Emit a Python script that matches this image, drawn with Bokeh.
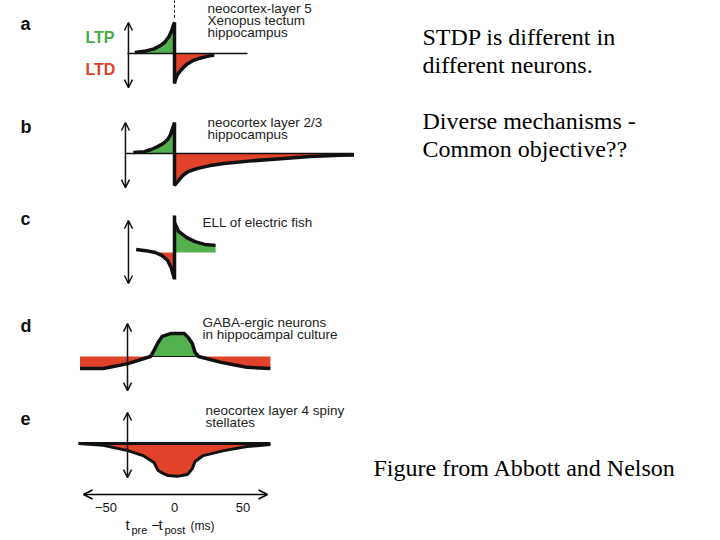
import numpy as np
from bokeh.plotting import figure
from bokeh.models import Range1d, Label, Arrow, OpenHead
from bokeh.embed import file_html
from bokeh.resources import INLINE
from bokeh.core.properties import value

# ---------------- data: t in ms (t_pre - t_post), w = weight change (normalised) ----------------
a_ltp_t = [-29, -22, -15, -10, -7, -4, -2, -1, 0]
a_ltp_w = [0.03, 0.07, 0.15, 0.26, 0.37, 0.55, 0.74, 0.90, 1.00]
a_ltd_t = [0, 0.7, 2.2, 5, 9, 13, 18, 23, 29]
a_ltd_w = [-0.97, -0.84, -0.68, -0.52, -0.35, -0.24, -0.16, -0.10, -0.05]

b_ltp_t = [-30, -22, -17, -12, -8, -5, -3, -1.5, 0]
b_ltp_w = [0.03, 0.06, 0.13, 0.23, 0.33, 0.45, 0.60, 0.80, 1.00]
b_ltd_t = [0, 3, 6, 10, 17, 26, 36, 58, 80, 99, 121, 131]
b_ltd_w = [-1.03, -0.87, -0.71, -0.58, -0.48, -0.39, -0.32, -0.23, -0.16, -0.10, -0.06, -0.05]

c_pre_t = [-28, -21, -14, -9, -5, -2.5, -1, 0]
c_pre_w = [0.10, 0.06, 0.0, -0.10, -0.26, -0.48, -0.71, -0.84]
c_post_t = [0, 3, 9, 15, 22, 30]
c_post_w = [0.97, 0.68, 0.48, 0.35, 0.26, 0.23]
c_jump_w = [-0.87, 1.19]

d_t = [-69, -52, -34, -17.5, -15, -12, -9, -3, 7, 10, 13, 15, 17.5, 34, 46, 53, 70]
d_w = [-0.39, -0.39, -0.23, 0.0, 0.19, 0.45, 0.65, 0.74, 0.74, 0.61, 0.42, 0.13, 0.0, -0.19, -0.29, -0.35, -0.39]

e_t = [-70, -52, -34, -23, -15, -12, -8, -5, 2, 9.5, 13, 15, 21, 36, 53, 70]
e_w = [0.0, -0.06, -0.23, -0.39, -0.61, -0.87, -0.97, -1.03, -1.06, -1.0, -0.81, -0.58, -0.39, -0.23, -0.10, -0.03]

tick_vals = [-50, 0, 50]
tick_labels = ["\u221250", "0", "50"]

panel_letters = ["a", "b", "c", "d", "e"]
panel_notes = [
    ["neocortex-layer 5", "Xenopus tectum", "hippocampus"],
    ["neocortex layer 2/3", "hippocampus"],
    ["ELL of electric fish"],
    ["GABA-ergic  neurons", "in hippocampal culture"],
    ["neocortex layer 4 spiny", "stellates"],
]
side_text = ["STDP is different in", "different neurons.", "",
             "Diverse mechanisms -", "Common objective??"]
credit = "Figure from Abbott and Nelson"

# ---------------- layout / style ----------------
W, H = 720, 540
T0, S = 174.0, 1.37          # page x of t=0, pixels per ms
K = 31.0                      # pixels per weight unit
BASE_FIX = 0.37               # svg alphabetic-baseline correction (em)
baselines = [53, 153, 252, 356, 443]
arrow_t = [-33.6, -35.8, -33.6, -34.3, -34.3]
arrow_w = [(1.0, -1.1), (1.0, -1.1), (1.03, -1.0), (1.06, -1.1), (1.0, -1.1)]
GREEN = "#52b04f"
RED = "#e0432a"
BLACK = "#111111"
SANS = "Liberation Sans"
SERIF = "Liberation Serif"

p = figure(width=W, height=H, output_backend="svg", toolbar_location=None,
           x_range=Range1d(0, W), y_range=Range1d(H, 0),
           min_border=0, outline_line_color=None)
p.axis.visible = False
p.grid.visible = False
p.extra_x_ranges = {"ms": Range1d((0 - T0) / S, (W - T0) / S)}
names = []
for i, B in enumerate(baselines):
    nm = "w%d" % i
    p.extra_y_ranges[nm] = Range1d(-(H - B) / K, B / K)
    names.append(nm)

def fill(t, lo, hi, color, yr):
    p.varea(x=t, y1=lo, y2=hi, fill_color=color, x_range_name="ms", y_range_name=yr)

def line(t, w, yr, width=3.5, color=BLACK, dash="solid"):
    p.line(t, w, line_width=width, line_color=color, line_dash=dash,
           x_range_name="ms", y_range_name=yr)

# panel a
fill(a_ltp_t, [0] * len(a_ltp_t), a_ltp_w, GREEN, names[0])
fill(a_ltd_t, [0] * len(a_ltd_t), a_ltd_w, RED, names[0])
line([-34.3, 53.3], [0, 0], names[0], width=1.5)
line(a_ltp_t + a_ltd_t, a_ltp_w + a_ltd_w, names[0])
line([0, 0], [1.15, 1.75], names[0], width=1, dash="3 2")

# panel b
fill(b_ltp_t, [0] * len(b_ltp_t), b_ltp_w, GREEN, names[1])
fill(b_ltd_t, [0] * len(b_ltd_t), b_ltd_w, RED, names[1])
line([-35.8, 130.7], [0, 0], names[1], width=1.5)
line(b_ltp_t + b_ltd_t, b_ltp_w + b_ltd_w, names[1])

# panel c
cw = np.array(c_pre_w)
fill(c_pre_t, [0] * len(c_pre_t), np.minimum(cw, 0), RED, names[2])
fill(c_post_t, [0] * len(c_post_t), c_post_w, GREEN, names[2])
line(c_pre_t, c_pre_w, names[2])
line(c_post_t, c_post_w, names[2])
line([0, 0], c_jump_w, names[2])

# panel d
dw = np.array(d_w)
fill(d_t, [0] * len(d_t), np.minimum(dw, 0), RED, names[3])
fill(d_t, [0] * len(d_t), np.maximum(dw, 0), GREEN, names[3])
line([-17.5, 17.5], [0, 0], names[3], width=1)
line(d_t, d_w, names[3])

# panel e
fill(e_t, [0] * len(e_t), e_w, RED, names[4])
line(e_t, e_w, names[4], width=3)
line([-70, 70], [0, 0], names[4], width=3)

# vertical double arrows
for i in range(5):
    p.add_layout(Arrow(start=OpenHead(size=8, line_width=1.5, line_color=BLACK),
                       end=OpenHead(size=8, line_width=1.5, line_color=BLACK),
                       x_start=arrow_t[i], x_end=arrow_t[i],
                       y_start=arrow_w[i][1], y_end=arrow_w[i][0],
                       line_width=1.5, line_color=BLACK,
                       x_range_name="ms", y_range_name=names[i]))

# time axis
p.add_layout(Arrow(start=OpenHead(size=9, line_width=1.5), end=OpenHead(size=9, line_width=1.5),
                   x_start=-66.4, x_end=67.9, y_start=494, y_end=494,
                   line_width=1.5, x_range_name="ms"))
p.text(x=tick_vals, y=[512 - BASE_FIX * 13] * 3, text=tick_labels, x_range_name="ms",
       text_font=value(SANS), text_font_size="13px", text_align="center",
       text_baseline="alphabetic", text_color="#111111")

def lab(x, y, txt, size=13, color="#222222", font=SANS, style="normal", align="left"):
    p.add_layout(Label(x=x, y=y - BASE_FIX * size, text=txt, text_font=font,
                       text_font_size="%gpx" % size,
                       text_color=color, text_font_style=style, text_align=align,
                       text_baseline="alphabetic"))

lab(125, 530, "t", size=15, color="#111111")
lab(131, 534, "pre", size=11, color="#111111")
lab(151, 530, "\u2212", size=14, color="#111111")
lab(158, 530, "t", size=15, color="#111111")
lab(164, 534, "post", size=11, color="#111111")
lab(190, 530, "(ms)", size=12, color="#111111")

# panel letters
letter_y = [30, 133, 225, 332, 425]
for L, y in zip(panel_letters, letter_y):
    lab(20, y, L, size=18, color="#111111", style="bold")

lab(85, 43, "LTP", size=16, color="#4aa84a", style="bold")
lab(85, 75, "LTD", size=16, color="#d8432a", style="bold")

# panel notes
note_x = [207, 207, 202, 202, 205]
note_y0 = [13, 127, 227, 327, 415]
for i, lines in enumerate(panel_notes):
    for j, s in enumerate(lines):
        lab(note_x[i], note_y0[i] + 12 * j, s, size=13.5)

# side text
side_y = [45, 73, 101, 129, 157]
for s, y in zip(side_text, side_y):
    if s:
        lab(422, y, s, size=24, color="#000000", font=SERIF)
lab(373, 476, credit, size=24, color="#000000", font=SERIF)

open("out.html", "w").write(file_html(p, INLINE))
